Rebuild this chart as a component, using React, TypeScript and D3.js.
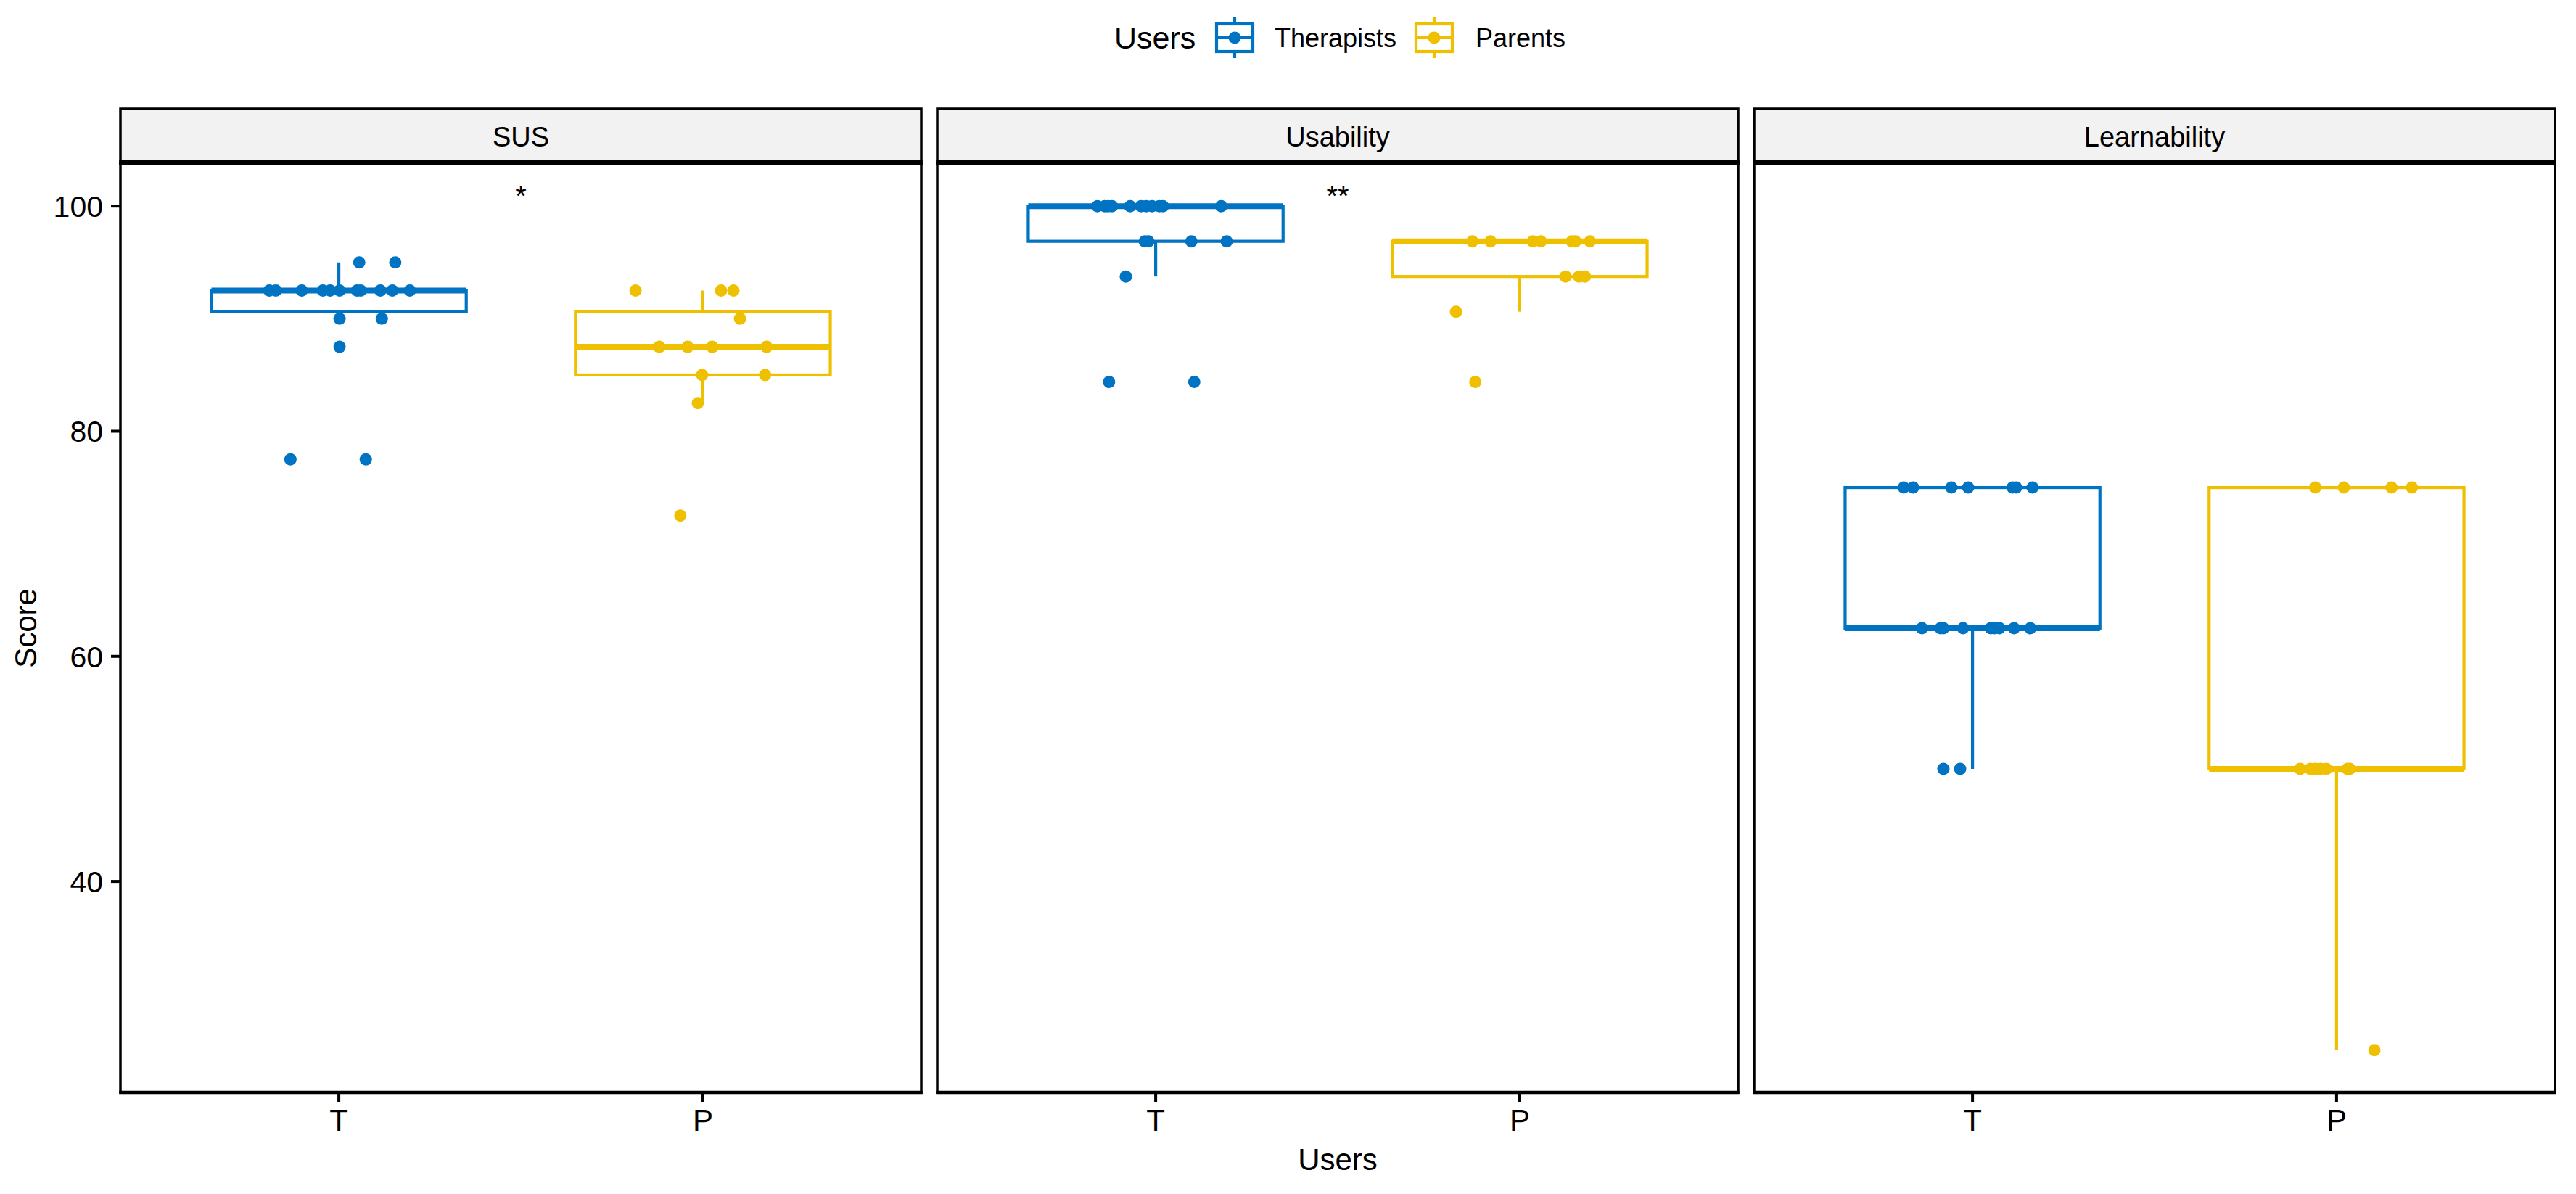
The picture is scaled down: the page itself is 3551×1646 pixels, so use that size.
import * as d3 from "d3";
import { useEffect } from "react";

// facets and groups
const facets = ["SUS", "Usability", "Learnability"];
const groups = ["T", "P"];
const groupNames = ["Therapists", "Parents"];
const colors = ["#0073C2", "#EFC000"];
const yTicks = [40, 60, 80, 100];
const sigLabels = ["*", "**", ""];
const sigValue = 101.5;

// scores, with their horizontal jitter (in category units)
const susTherapists = [95, 95, 92.5, 92.5, 92.5, 92.5, 92.5, 92.5, 92.5, 92.5, 92.5, 92.5, 92.5, 90, 90, 87.5, 77.5, 77.5];
const susTherapistsJitter = [0.056, 0.155, -0.191, -0.173, -0.102, -0.044, -0.024, 0.002, 0.05, 0.06, 0.114, 0.147, 0.195, 0.002, 0.118, 0.002, -0.133, 0.074];
const susParents = [92.5, 92.5, 92.5, 90, 87.5, 87.5, 87.5, 87.5, 85, 85, 82.5, 72.5];
const susParentsJitter = [-0.185, 0.05, 0.084, 0.102, -0.12, -0.042, 0.026, 0.175, -0.002, 0.171, -0.014, -0.062];

const usabilityTherapists = [100, 100, 100, 100, 100, 100, 100, 100, 100, 100, 100, 96.875, 96.875, 96.875, 96.875, 93.75, 84.375, 84.375];
const usabilityTherapistsJitter = [-0.16, -0.14, -0.13, -0.12, -0.07, -0.04, -0.026, -0.01, 0.01, 0.02, 0.18, -0.03, -0.02, 0.098, 0.195, -0.082, -0.128, 0.106];
const usabilityParents = [96.875, 96.875, 96.875, 96.875, 96.875, 96.875, 96.875, 93.75, 93.75, 93.75, 90.625, 84.375];
const usabilityParentsJitter = [-0.13, -0.08, 0.036, 0.058, 0.143, 0.153, 0.193, 0.126, 0.163, 0.179, -0.175, -0.122];

const learnTherapists = [75, 75, 75, 75, 75, 75, 75, 62.5, 62.5, 62.5, 62.5, 62.5, 62.5, 62.5, 62.5, 62.5, 50, 50];
const learnTherapistsJitter = [-0.189, -0.163, -0.058, -0.012, 0.11, 0.12, 0.165, -0.139, -0.088, -0.08, -0.026, 0.05, 0.06, 0.074, 0.114, 0.159, -0.08, -0.034];
const learnParents = [75, 75, 75, 75, 50, 50, 50, 50, 50, 50, 50, 25];
const learnParentsJitter = [-0.058, 0.02, 0.151, 0.207, -0.1, -0.072, -0.058, -0.044, -0.028, 0.03, 0.036, 0.104];

const facetValues = [
  [susTherapists, susParents],
  [usabilityTherapists, usabilityParents],
  [learnTherapists, learnParents],
];
const facetJitter = [
  [susTherapistsJitter, susParentsJitter],
  [usabilityTherapistsJitter, usabilityParentsJitter],
  [learnTherapistsJitter, learnParentsJitter],
];

const W = 3551;
const H = 1646;
const FONT = "'Liberation Sans', Arial, sans-serif";
const margin = { left: 166, right: 29, stripTop: 150, top: 226, bottom: 140 };
const gap = 22;
const panelW = (W - margin.left - margin.right - 2 * gap) / 3;
const panelBottom = H - margin.bottom;

function boxStats(vals: number[]) {
  const s = [...vals].sort(d3.ascending);
  const q1 = d3.quantile(s, 0.25)!;
  const med = d3.quantile(s, 0.5)!;
  const q3 = d3.quantile(s, 0.75)!;
  const iqr = q3 - q1;
  const inside = s.filter((v) => v >= q1 - 1.5 * iqr && v <= q3 + 1.5 * iqr);
  return { q1, med, q3, lo: d3.min(inside)!, hi: d3.max(inside)! };
}

export default function App() {
  useEffect(() => {
    document.body.style.margin = "0";
  }, []);

  const y = d3.scaleLinear().domain([21.25, 103.75]).range([panelBottom, margin.top]);
  const x = d3.scaleLinear().domain([0.4, 2.6]).range([0, panelW]);
  const boxW = x(0.7) - x(0);
  const stroke = 4.2;

  // legend layout (offsets from center)
  const legendY = 52;
  const lc = (margin.left + W - margin.right) / 2;

  const LegendKey = ({ cx, color }: { cx: number; color: string }) => (
    <g>
      <line x1={cx} x2={cx} y1={24} y2={80} stroke={color} strokeWidth={stroke} />
      <rect x={cx - 25} y={33} width={50} height={38} fill="white" stroke={color} strokeWidth={stroke} />
      <line x1={cx - 25} x2={cx + 25} y1={legendY} y2={legendY} stroke={color} strokeWidth={stroke} />
      <circle cx={cx} cy={legendY} r={8.5} fill={color} />
    </g>
  );

  return (
    <svg width={W} height={H} style={{ display: "block", background: "white" }} fontFamily={FONT}>
      {/* legend */}
      <g>
        <text x={lc - 308} y={67} fontSize={43}>Users</text>
        <LegendKey cx={lc - 142} color={colors[0]} />
        <text x={lc - 87} y={65} fontSize={36}>{groupNames[0]}</text>
        <LegendKey cx={lc + 133} color={colors[1]} />
        <text x={lc + 190} y={65} fontSize={36}>{groupNames[1]}</text>
      </g>

      {facets.map((facet, fi) => {
        const x0 = margin.left + fi * (panelW + gap);
        return (
          <g key={facet} transform={`translate(${x0},0)`}>
            {/* strip */}
            <rect x={0} y={margin.stripTop} width={panelW} height={margin.top - margin.stripTop} fill="#F2F2F2" stroke="black" strokeWidth={3.5} />
            <text x={panelW / 2} y={202} fontSize={38} textAnchor="middle">{facet}</text>
            {/* panel */}
            <rect x={0} y={margin.top} width={panelW} height={panelBottom - margin.top} fill="white" stroke="black" strokeWidth={3.5} />
            <line x1={-1.75} x2={panelW + 1.75} y1={margin.top - 2} y2={margin.top - 2} stroke="black" strokeWidth={7} />
            <line x1={-1.75} x2={panelW + 1.75} y1={panelBottom} y2={panelBottom} stroke="black" strokeWidth={4.5} />

            {groups.map((g, gi) => {
              const vals = facetValues[fi][gi];
              const jit = facetJitter[fi][gi];
              const st = boxStats(vals);
              const cx = x(gi + 1);
              const col = colors[gi];
              return (
                <g key={g}>
                  <line x1={cx} x2={cx} y1={y(st.hi)} y2={y(st.q3)} stroke={col} strokeWidth={stroke} />
                  <line x1={cx} x2={cx} y1={y(st.q1)} y2={y(st.lo)} stroke={col} strokeWidth={stroke} />
                  <rect x={cx - boxW / 2} y={y(st.q3)} width={boxW} height={y(st.q1) - y(st.q3)} fill="white" stroke={col} strokeWidth={stroke} />
                  <line x1={cx - boxW / 2} x2={cx + boxW / 2} y1={y(st.med)} y2={y(st.med)} stroke={col} strokeWidth={8} />
                  {vals.map((v, i) => (
                    <circle key={i} cx={x(gi + 1 + jit[i])} cy={y(v)} r={8.5} fill={col} />
                  ))}
                </g>
              );
            })}

            {sigLabels[fi] && (
              <text x={x(1.5)} y={y(sigValue) + 23} fontSize={40} textAnchor="middle">{sigLabels[fi]}</text>
            )}

            {/* x ticks */}
            {groups.map((g, gi) => (
              <g key={g}>
                <line x1={x(gi + 1)} x2={x(gi + 1)} y1={panelBottom} y2={panelBottom + 13} stroke="black" strokeWidth={4} />
                <text x={x(gi + 1)} y={1559} fontSize={42} textAnchor="middle">{g}</text>
              </g>
            ))}

            {/* y axis on first panel */}
            {fi === 0 &&
              yTicks.map((t) => (
                <g key={t}>
                  <line x1={-13} x2={0} y1={y(t)} y2={y(t)} stroke="black" strokeWidth={4} />
                  <text x={-24} y={y(t) + 15} fontSize={41} textAnchor="end">{t}</text>
                </g>
              ))}
          </g>
        );
      })}

      {/* axis titles */}
      <text x={(margin.left + W - margin.right) / 2} y={1613} fontSize={42} textAnchor="middle">Users</text>
      <text transform={`translate(50,${(margin.top + panelBottom) / 2}) rotate(-90)`} fontSize={42} textAnchor="middle">Score</text>
    </svg>
  );
}
